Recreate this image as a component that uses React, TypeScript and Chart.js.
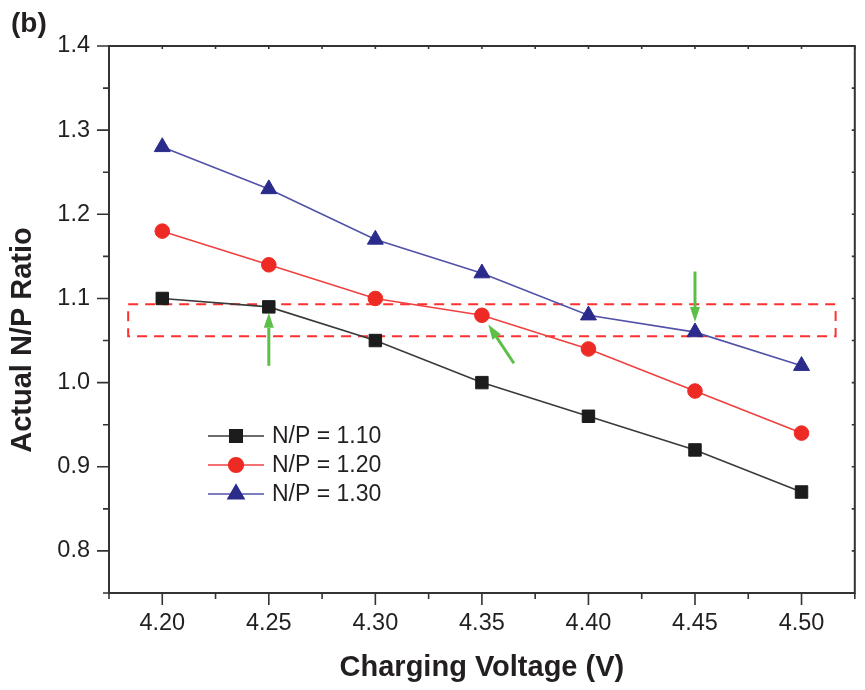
import { useEffect, useRef } from "react";
import { Chart, registerables, type Plugin } from "chart.js";
import { drawPoint } from "chart.js/helpers";

Chart.register(...registerables);

// 充電電圧 (V)
const voltages = [4.2, 4.25, 4.3, 4.35, 4.4, 4.45, 4.5];
const np110 = [1.1, 1.09, 1.05, 1.0, 0.96, 0.92, 0.87];
const np120 = [1.18, 1.14, 1.1, 1.08, 1.04, 0.99, 0.94];
const np130 = [1.28, 1.23, 1.17, 1.13, 1.08, 1.06, 1.02];
const seriesLabels = ["N/P = 1.10", "N/P = 1.20", "N/P = 1.30"];

const xMajor = [4.2, 4.25, 4.3, 4.35, 4.4, 4.45, 4.5];
const xMinor = [4.175, 4.225, 4.275, 4.325, 4.375, 4.425, 4.475, 4.525];
const yMajor = [0.8, 0.9, 1.0, 1.1, 1.2, 1.3, 1.4];
const yMinor = [0.75, 0.85, 0.95, 1.05, 1.15, 1.25, 1.35];

// 破線の枠（データ座標）
const boxX = [4.184, 4.516];
const boxY = [1.055, 1.093];
// 緑の矢印 [x0, y0, x1, y1]（尾 → 先端）
const arrows = [
  [4.25, 1.02, 4.25, 1.083],
  [4.365, 1.023, 4.353, 1.069],
  [4.45, 1.132, 4.45, 1.072],
];

const FONT = "'Liberation Sans', Arial, sans-serif";
const INK = "#231f20";
const AXIS = "#333333";

const styles = [
  { line: "#3a3a3a", fill: "#1c1c1c", point: "rect", r: 8.8 },
  { line: "#f04040", fill: "#ee2a24", point: "circle", r: 7.3 },
  { line: "#5252a8", fill: "#2b2b8c", point: "triangle", r: 9.2 },
];

const decor: Plugin<"line"> = {
  id: "decor",
  beforeDatasetsDraw(chart) {
    const { ctx, chartArea: a } = chart;
    const x = chart.scales.x;
    const y = chart.scales.y;
    ctx.save();
    // 破線枠
    ctx.strokeStyle = "#ff3030";
    ctx.lineWidth = 2;
    ctx.setLineDash([10, 7]);
    const bx0 = x.getPixelForValue(boxX[0]);
    const bx1 = x.getPixelForValue(boxX[1]);
    const by0 = y.getPixelForValue(boxY[1]);
    const by1 = y.getPixelForValue(boxY[0]);
    ctx.strokeRect(bx0, by0, bx1 - bx0, by1 - by0);
    ctx.setLineDash([]);
    ctx.restore();

    // 枠と目盛
    ctx.save();
    ctx.strokeStyle = AXIS;
    ctx.lineWidth = 2;
    ctx.strokeRect(a.left, a.top, a.right - a.left, a.bottom - a.top);
    ctx.lineWidth = 1.6;
    ctx.beginPath();
    const tickX = (v: number, len: number) => {
      const px = x.getPixelForValue(v);
      ctx.moveTo(px, a.bottom);
      ctx.lineTo(px, a.bottom + len);
      ctx.moveTo(px, a.top);
      ctx.lineTo(px, a.top + 3);
    };
    const tickY = (v: number, len: number) => {
      const py = y.getPixelForValue(v);
      ctx.moveTo(a.left, py);
      ctx.lineTo(a.left - len, py);
      ctx.moveTo(a.right, py);
      ctx.lineTo(a.right - 3, py);
    };
    xMajor.forEach((v) => tickX(v, 12));
    xMinor.forEach((v) => tickX(v, 6));
    yMajor.forEach((v) => tickY(v, 12));
    yMinor.forEach((v) => tickY(v, 6));
    ctx.stroke();
    ctx.restore();
  },
  afterDraw(chart) {
    const { ctx, chartArea: a } = chart;
    const x = chart.scales.x;
    const y = chart.scales.y;
    ctx.save();
    // 矢印
    ctx.strokeStyle = "#5cbf48";
    ctx.fillStyle = "#5cbf48";
    ctx.lineWidth = 3;
    arrows.forEach(([x0, y0, x1, y1]) => {
      const p0x = x.getPixelForValue(x0);
      const p0y = y.getPixelForValue(y0);
      const p1x = x.getPixelForValue(x1);
      const p1y = y.getPixelForValue(y1);
      const ang = Math.atan2(p1y - p0y, p1x - p0x);
      const head = 15;
      const hw = 5;
      const bx = p1x - Math.cos(ang) * head;
      const by = p1y - Math.sin(ang) * head;
      ctx.beginPath();
      ctx.moveTo(p0x, p0y);
      ctx.lineTo(bx, by);
      ctx.stroke();
      ctx.beginPath();
      ctx.moveTo(p1x, p1y);
      ctx.lineTo(bx + Math.sin(ang) * hw, by - Math.cos(ang) * hw);
      ctx.lineTo(bx - Math.sin(ang) * hw, by + Math.cos(ang) * hw);
      ctx.closePath();
      ctx.fill();
    });

    // 凡例
    const lx0 = 208;
    const lx1 = 264;
    const rows = [436, 465, 494];
    ctx.font = `23px ${FONT}`;
    ctx.textBaseline = "middle";
    ctx.textAlign = "left";
    styles.forEach((s, i) => {
      const ry = rows[i];
      ctx.strokeStyle = s.line;
      ctx.lineWidth = 1.6;
      ctx.beginPath();
      ctx.moveTo(lx0, ry);
      ctx.lineTo(lx1, ry);
      ctx.stroke();
      ctx.fillStyle = s.fill;
      ctx.strokeStyle = s.fill;
      drawPoint(ctx, { pointStyle: s.point as any, radius: s.r, borderWidth: 1, rotation: 0 }, (lx0 + lx1) / 2, ry);
      ctx.fillStyle = INK;
      ctx.fillText(seriesLabels[i], 272, ry + 1);
    });

    // 軸タイトル
    ctx.fillStyle = INK;
    ctx.font = `bold 29px ${FONT}`;
    ctx.textAlign = "center";
    ctx.textBaseline = "middle";
    ctx.fillText("Charging Voltage (V)", (a.left + a.right) / 2, 668);
    ctx.save();
    ctx.translate(23, 340);
    ctx.rotate(-Math.PI / 2);
    ctx.fillText("Actual N/P Ratio", 0, 0);
    ctx.restore();
    ctx.font = `bold 28px ${FONT}`;
    ctx.textAlign = "left";
    ctx.fillText("(b)", 11, 24);
    ctx.restore();
  },
};

export default function App() {
  const canvasRef = useRef<HTMLCanvasElement>(null);
  const chartRef = useRef<Chart | null>(null);

  useEffect(() => {
    const el = canvasRef.current;
    if (!el) return;
    chartRef.current?.destroy();
    const data = [np110, np120, np130];
    chartRef.current = new Chart(el, {
      type: "line",
      data: {
        datasets: data.map((vals, i) => ({
          label: seriesLabels[i],
          data: vals.map((v, j) => ({ x: voltages[j], y: v })),
          borderColor: styles[i].line,
          borderWidth: 1.6,
          backgroundColor: styles[i].fill,
          pointBackgroundColor: styles[i].fill,
          pointBorderColor: styles[i].fill,
          pointBorderWidth: 1,
          pointStyle: styles[i].point as any,
          pointRadius: styles[i].r,
          pointHoverRadius: styles[i].r,
          tension: 0,
        })),
      },
      options: {
        animation: false,
        responsive: false,
        events: [],
        layout: { padding: { left: 0, right: 7, top: 46, bottom: 0 } },
        plugins: { legend: { display: false }, tooltip: { enabled: false } },
        scales: {
          x: {
            type: "linear",
            min: 4.175,
            max: 4.525,
            grid: { display: false, drawTicks: false },
            border: { display: false },
            afterBuildTicks: (s) => {
              s.ticks = xMajor.map((v) => ({ value: v }));
            },
            afterFit: (s) => {
              s.height = 97;
            },
            ticks: {
              padding: 16,
              color: INK,
              font: { family: FONT, size: 23.5 },
              callback: (v) => Number(v).toFixed(2),
            },
          },
          y: {
            type: "linear",
            min: 0.75,
            max: 1.4,
            grid: { display: false, drawTicks: false },
            border: { display: false },
            afterBuildTicks: (s) => {
              s.ticks = yMajor.map((v) => ({ value: v }));
            },
            afterFit: (s) => {
              s.width = 109;
            },
            ticks: {
              padding: 19,
              color: INK,
              font: { family: FONT, size: 23.5 },
              callback: (v) => Number(v).toFixed(1),
            },
          },
        },
      },
      plugins: [decor],
    });
    return () => {
      chartRef.current?.destroy();
      chartRef.current = null;
    };
  }, []);

  return (
    <div style={{ position: "fixed", left: 0, top: 0, width: 865, height: 690, background: "#fff" }}>
      <canvas ref={canvasRef} width={865} height={690} style={{ width: 865, height: 690 }} />
    </div>
  );
}
